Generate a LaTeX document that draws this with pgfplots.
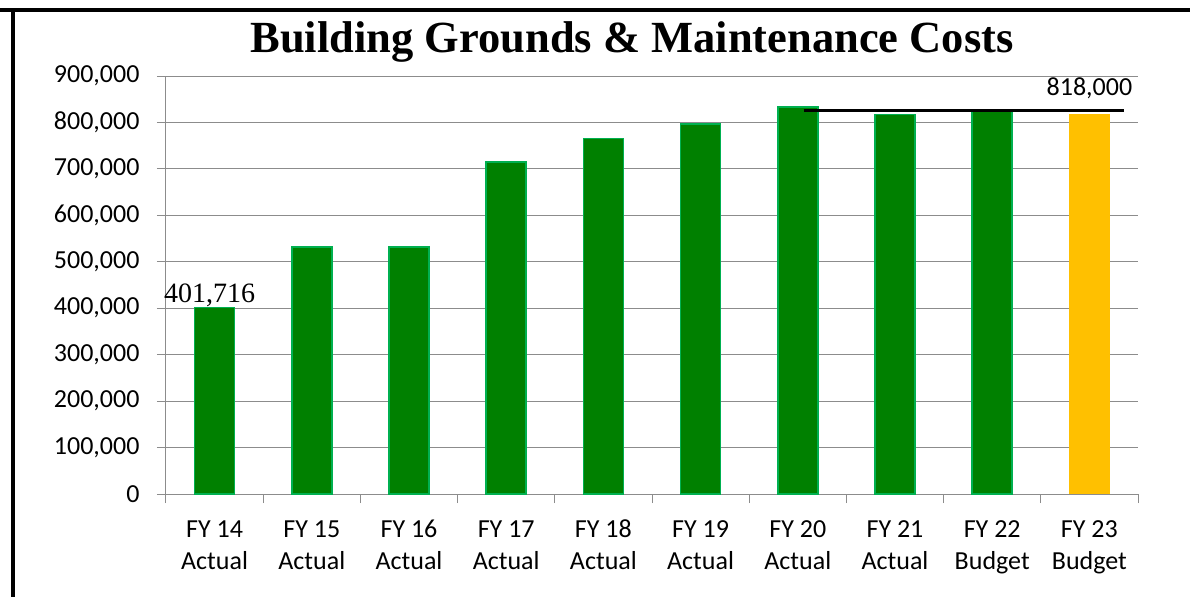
\documentclass[border=0pt]{standalone}
\usepackage{pgfplots}
\pgfplotsset{compat=1.18}
\usepackage{fontspec}
\setmainfont{Carlito}
\newfontfamily\titlefont{Liberation Serif}
\definecolor{bargreen}{RGB}{0,128,0}
\definecolor{baredge}{RGB}{0,176,80}
\definecolor{barorange}{RGB}{255,192,0}
\definecolor{gridgray}{RGB}{140,140,140}
\begin{document}
\begin{tikzpicture}
\useasboundingbox (-166pt,-103pt) rectangle (1024pt,494pt);
\begin{axis}[
  at={(0pt,0pt)}, anchor=south west,
  scale only axis,
  width=972pt, height=418pt,
  xmin=-0.5, xmax=9.5,
  ymin=0, ymax=900000,
  ytick={0,100000,...,900000},
  scaled y ticks=false,
  yticklabel style={xshift=-14pt, /pgf/number format/fixed, /pgf/number format/1000 sep={,}, /pgf/number format/assume math mode=true},
  ymajorgrids,
  grid style={gridgray, line width=1pt},
  axis x line*=bottom, axis y line*=left,
  axis line style={gridgray, line width=1pt, -},
  tick align=outside,
  major tick length=9pt,
  tick style={gridgray, line width=1pt},
  xtick={-0.5,0.5,...,9.5},
  xticklabels={},
  extra x ticks={0,1,2,3,4,5,6,7,8,9},
  extra x tick labels={{\strut FY 14\\\strut Actual},{\strut FY 15\\\strut Actual},{\strut FY 16\\\strut Actual},{\strut FY 17\\\strut Actual},{\strut FY 18\\\strut Actual},{\strut FY 19\\\strut Actual},{\strut FY 20\\\strut Actual},{\strut FY 21\\\strut Actual},{\strut FY 22\\\strut Budget},{\strut FY 23\\\strut Budget}},
  extra x tick style={major tick length=0pt, xticklabel style={align=center, font=\fontsize{26}{31.7}\selectfont, yshift=-18pt}},
  ticklabel style={font=\fontsize{26}{31.7}\selectfont, text=black},
  clip=false,
]
\addplot[ybar, bar width=40pt, bar shift=0pt, fill=bargreen, draw=baredge, line width=1.5pt]
  coordinates {(0,401716) (1,532000) (2,532000) (3,715000) (4,765000) (5,797000) (6,833000) (7,817000) (8,826000)};
\addplot[ybar, bar width=41pt, bar shift=0pt, fill=barorange, draw=none]
  coordinates {(9,818000)};
\addplot[black, line width=3pt, no marks] coordinates {(6.06,826000) (9.36,826000)};
\node[anchor=base, inner sep=0pt, yshift=5pt, xshift=-5pt, font=\titlefont\fontsize{28}{30}\selectfont] at (axis cs:0,401716) {401,716};
\node[anchor=base, inner sep=0pt, yshift=15pt, font=\normalfont\fontsize{26}{30}\selectfont] at (axis cs:9,826000) {818,000};
\end{axis}
\node[anchor=base, inner sep=0pt, font=\titlefont\bfseries\fontsize{44.5}{48}\selectfont] at (466pt,441pt) {Building Grounds \& Maintenance Costs};
\draw[black, line width=4pt] (-166pt,483.7pt) -- (1024pt,483.7pt);
\draw[black, line width=3.5pt] (-153pt,485.7pt) -- (-153pt,-103pt);
\end{tikzpicture}
\end{document}
